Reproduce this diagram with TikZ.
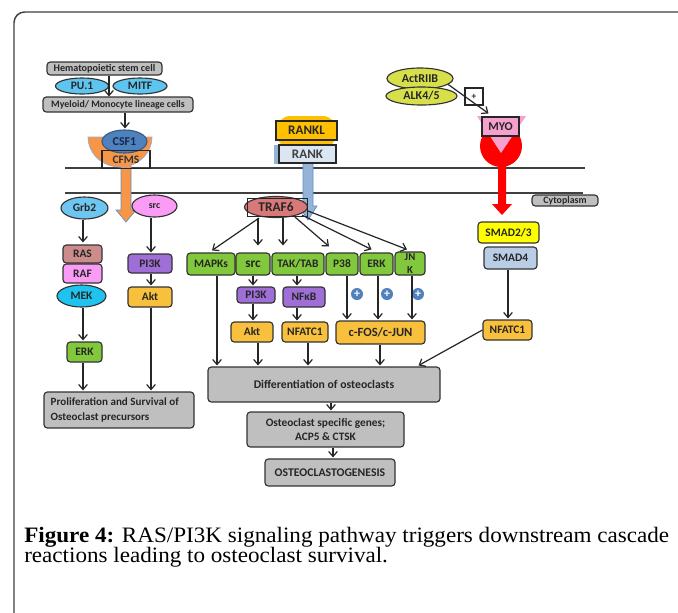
\documentclass[tikz,border=0pt]{standalone}
\usepackage{fontspec}
\setmainfont{Liberation Serif}
\newfontfamily\capfont[FakeStretch=1.05]{Liberation Serif}
\newfontfamily\dgfont{Carlito}
\usetikzlibrary{arrows.meta,calc,shapes.geometric}
\definecolor{cgray}{RGB}{191,191,191}
\definecolor{cpu}{RGB}{94,196,240}
\definecolor{cgrb}{RGB}{110,198,240}
\definecolor{cmek}{RGB}{30,195,240}
\definecolor{ccsf}{RGB}{79,129,189}
\definecolor{ccsftxt}{RGB}{20,40,80}
\definecolor{corange}{RGB}{247,150,70}
\definecolor{cgold}{RGB}{248,192,60}
\definecolor{crankl}{RGB}{255,192,0}
\definecolor{crank}{RGB}{220,230,242}
\definecolor{carrblue}{RGB}{149,179,215}
\definecolor{carredge}{RGB}{100,140,200}
\definecolor{ctraf}{RGB}{217,120,120}
\definecolor{cgreen}{RGB}{130,200,60}
\definecolor{cpurple}{RGB}{160,110,215}
\definecolor{cpink}{RGB}{250,155,245}
\definecolor{cras}{RGB}{205,140,140}
\definecolor{cyg}{RGB}{215,224,75}
\definecolor{cmyo}{RGB}{245,160,205}
\definecolor{cred}{RGB}{255,0,0}
\definecolor{cyellow}{RGB}{255,255,0}
\definecolor{csmad}{RGB}{185,205,229}
\definecolor{cplus}{RGB}{79,129,189}
\begin{document}
\begin{tikzpicture}[x=0.75pt,y=-0.75pt,
  base/.style={font=\dgfont\bfseries\fontsize{8.6}{9}\selectfont, inner sep=0pt, align=center, text=black!85},
  sm/.style={font=\dgfont\bfseries\fontsize{7.4}{8}\selectfont},
  bx/.style 2 args={base, draw=black!80, line width=0.85pt, rounded corners=2.5pt, minimum width=#1*0.75pt, minimum height=#2*0.75pt},
  el/.style 2 args={base, ellipse, draw=black!80, line width=0.85pt, minimum width=#1*0.75pt, minimum height=#2*0.75pt},
  arr/.style={-{Straight Barb[length=3.8pt,width=6.5pt]}, line width=0.9pt, black!85},
  mem/.style={line width=0.9pt, black!75},
  plus/.style={circle, fill=cplus, minimum size=12*0.75pt, inner sep=0pt, text=white, font=\dgfont\bfseries\fontsize{9}{9}\selectfont}
]
\useasboundingbox (0,0) rectangle (678,612);
\clip (0,0) rectangle (678,612);
\fill[white] (0,0) rectangle (678,612);
\draw[rounded corners=8, line width=1.1pt, black!75] (14,640) -- (14,12) -- (700,12);

% membrane
\draw[mem] (65,168) -- (585,168);
\draw[mem] (65,193) -- (583,193);
\node[bx={66}{11}, sm, fill=cgray] (cyto) at (565,200.5) {Cytoplasm};

% ---------- top left ----------
\node[bx={115}{13}, font=\dgfont\bfseries\fontsize{7.6}{8}\selectfont, fill=cgray] (hsc) at (104.5,68.5) {Hematopoietic stem cell};
\node[el={53}{16}, fill=cpu] (pu1) at (82,86) {PU.1};
\node[el={54}{16}, fill=cpu] (mitf) at (140,86) {MITF};
\node[bx={150}{15}, sm, fill=cgray] (myel) at (118,104.5) {Myeloid/ Monocyte lineage cells};
\draw[arr] ($(hsc.south)+(4.5,0)$) -- ($(myel.north)+(-9,0)$);

% orange arrow + cup
\fill[corange, draw=carredge, line width=0.5pt] (121,160) -- (131,160) -- (131,210) -- (136,210) -- (126,222) -- (116,210) -- (121,210) -- cycle;
\fill[corange, draw=carredge!70, line width=0.5pt] (88,137) -- (152,137) arc[start angle=0, end angle=180, x radius=32, y radius=30] -- cycle;
\node[el={45}{23}, fill=ccsf, draw=ccsf!70!black, text=ccsftxt, font=\dgfont\bfseries\fontsize{9}{9}\selectfont] (csf1) at (124.5,141.5) {CSF1};
\node[base, draw=black!85, line width=0.8pt, minimum width=48*0.75pt, minimum height=18*0.75pt, anchor=north, text=black!80] (cfms) at (126,150) {\raisebox{-1.5pt}{CFMS}};
\coordinate (tx1) at (125,0);
\draw[arr] (myel.south -| tx1) -- ($(csf1.north -| tx1)+(0,-1)$);

% ---------- left column ----------
\node[el={47}{22}, fill=cgrb] (grb2) at (84.5,208) {Grb2};
\node[el={45}{22}, fill=cpink, sm] (srcl) at (154.5,206) {src};
\node[bx={39}{18}, fill=cras] (ras) at (82.5,254) {RAS};
\node[bx={39}{19}, fill=cpink] (raf) at (82.5,273.5) {RAF};
\node[el={49}{22}, fill=cmek] (mek) at (81.5,296) {MEK};
\node[bx={35}{20}, fill=cgreen] (erkl) at (84.5,352) {ERK};
\node[bx={44}{19}, fill=cpurple] (pi3kl) at (150,263.5) {PI3K};
\node[bx={44}{20}, fill=cgold] (aktl) at (150,297) {Akt};
\node[bx={150}{36}, fill=cgray] (prolif) at (119,410) {};
\node[base, anchor=west, align=left, font=\dgfont\bfseries\fontsize{8.3}{11}\selectfont] (proliftxt) at ($(prolif.west)+(7,0)$) {Proliferation and Survival of\\Osteoclast precursors};
\coordinate (lx1) at (83,0);
\coordinate (lx2) at (151,0);
\draw[arr] (grb2.south -| lx1) -- ($(ras.north -| lx1)+(0,-2)$);
\draw[arr] (mek.south -| lx1) -- ($(erkl.north -| lx1)+(0,-1)$);
\draw[arr] (erkl.south -| lx1) -- ($(prolif.north -| lx1)+(0,-1)$);
\draw[arr] (srcl.south -| lx2) -- ($(pi3kl.north -| lx2)+(0,-1)$);
\draw[arr] (pi3kl.south -| lx2) -- ($(aktl.north -| lx2)+(0,-1)$);
\draw[arr] (aktl.south -| lx2) -- ($(prolif.north -| lx2)+(0,-1)$);

% ---------- RANKL / RANK ----------
\fill[carrblue, draw=carredge, line width=0.5pt] (303,160) -- (313,160) -- (313,206) -- (317,206) -- (308,220) -- (299,206) -- (303,206) -- cycle;
\fill[crankl, rounded corners=10] (277,116) -- (336,116) -- (336,148) -- (277,148) -- cycle;
\fill[carrblue] (274,145) rectangle (330,164);
\node[base, draw=black!85, line width=0.85pt, fill=crankl, minimum width=61*0.75pt, minimum height=19*0.75pt, font=\dgfont\bfseries\fontsize{9.8}{9}\selectfont] (rankl) at (306.5,130.5) {RANKL};
\node[base, draw=black!85, line width=0.85pt, fill=crank, minimum width=57*0.75pt, minimum height=18*0.75pt, font=\dgfont\bfseries\fontsize{9.8}{9}\selectfont, text=black!75] (rank) at (307.5,154) {RANK};

% TRAF6
\node[el={63}{21}, fill=ctraf, font=\dgfont\bfseries\fontsize{10}{9}\selectfont] (traf6) at (276,207) {TRAF6};
\node[draw=black!85, line width=0.7pt, minimum width=60*0.75pt, minimum height=18*0.75pt, inner sep=0pt] (traf6box) at (277,207) {};

% green row
\node[bx={48}{22}, fill=cgreen] (mapks) at (211,264) {MAPKs};
\node[bx={34}{22}, fill=cgreen, font=\dgfont\bfseries\fontsize{10}{9}\selectfont] (srcg) at (253,264) {src};
\node[bx={52}{22}, fill=cgreen] (tak) at (298,264) {TAK/TAB};
\node[bx={32}{22}, fill=cgreen] (p38) at (342,264) {P38};
\node[bx={33}{22}, fill=cgreen] (erkg) at (376.5,264) {ERK};
\node[bx={30}{23}, fill=cgreen, font=\dgfont\bfseries\fontsize{8}{10}\selectfont] (jnk) at (410,263.5) {JN\\K};

\draw[arr] ($(traf6.south)+(-17,0)$) -- ($(mapks.north)+(1,-2)$);
\draw[arr] ($(traf6.south)+(-18,0)$) -- ($(srcg.north)+(5,-7)$);
\draw[arr] ($(traf6.south)+(7,0)$) -- ($(tak.north)+(-15,-7)$);
\draw[arr] ($(traf6.south)+(19,-1)$) -- ($(p38.north)+(-13,-6)$);
\draw[arr] ($(traf6.south)+(26,-3)$) -- ($(erkg.north)+(-5,-3)$);
\draw[arr] ($(traf6.east)+(0,4)$) -- ($(jnk.north)+(-3,-2)$);

% second row
\node[bx={38}{16}, fill=cpurple] (pi3km) at (256,295) {PI3K};
\node[bx={42}{20}, fill=cpurple] (nfkb) at (304,297) {NFκB};
\node[plus] (pl1) at (357,294) {+};
\node[plus] (pl2) at (387,294) {+};
\node[plus] (pl3) at (418,294) {+};

% third row
\node[bx={42}{20}, fill=cgold] (aktm) at (252,332) {Akt};
\node[bx={46}{20}, fill=cgold] (nfatm) at (305,332) {NFATC1};
\node[bx={89}{23}, fill=cgold, font=\dgfont\bfseries\fontsize{9.4}{9}\selectfont] (cfos) at (380.5,332.5) {c-FOS/c-JUN};

\coordinate (mx1) at (253,0);
\coordinate (mx2) at (297,0);
\coordinate (mx3) at (347,0);
\coordinate (mx4) at (378,0);
\coordinate (mx5) at (412,0);
\draw[arr] (srcg.south -| mx1) -- ($(pi3km.north -| mx1)+(0,-1)$);
\draw[arr] (tak.south -| mx2) -- ($(nfkb.north -| mx2)+(0,-1)$);
\draw[arr] (pi3km.south -| mx1) -- ($(aktm.north -| mx1)+(0,-1)$);
\draw[arr] (nfkb.south -| mx2) -- ($(nfatm.north -| mx2)+(0,-1)$);
\draw[arr] (p38.south -| mx3) -- ($(cfos.north -| mx3)+(0,-1)$);
\draw[arr] (erkg.south -| mx4) -- ($(cfos.north -| mx4)+(0,-1)$);
\draw[arr] (jnk.south -| mx5) -- ($(cfos.north -| mx5)+(0,-1)$);

% bottom
\node[bx={232}{35}, fill=cgray, font=\dgfont\bfseries\fontsize{8.8}{9}\selectfont] (diff) at (324,384.5) {Differentiation of osteoclasts};
\node[bx={157}{35}, fill=cgray, font=\dgfont\bfseries\fontsize{8.5}{10}\selectfont] (genes) at (325.5,429.5) {Osteoclast specific genes;\\ACP5 \& CTSK};
\node[bx={130}{27}, fill=cgray, font=\dgfont\bfseries\fontsize{8.8}{9}\selectfont] (osteo) at (330,472.5) {OSTEOCLASTOGENESIS};

\coordinate (bx1) at (217,0);
\coordinate (bx2) at (258,0);
\coordinate (bx3) at (308,0);
\coordinate (bx4) at (380,0);
\coordinate (bx5) at (331,0);
\coordinate (bx6) at (333,0);
\draw[arr] (mapks.south -| bx1) -- ($(diff.north -| bx1)+(0,-1)$);
\draw[arr] (aktm.south -| bx2) -- ($(diff.north -| bx2)+(0,-1)$);
\draw[arr] (nfatm.south -| bx3) -- ($(diff.north -| bx3)+(0,-1)$);
\draw[arr] (cfos.south -| bx4) -- ($(diff.north -| bx4)+(0,-1)$);
\draw[arr] (diff.south -| bx5) -- ($(genes.north -| bx5)+(0,-1)$);
\draw[arr] (genes.south -| bx6) -- ($(osteo.north -| bx6)+(0,-1)$);

% ---------- right: myostatin ----------
\node[el={66}{21}, fill=cyg, font=\dgfont\bfseries\fontsize{9}{9}\selectfont] (actr) at (420,78.5) {ActRIIB};
\node[el={71}{18}, fill=cyg, font=\dgfont\bfseries\fontsize{9}{9}\selectfont] (alk) at (421.5,96) {ALK4/5};
\node[base, draw=black!85, line width=0.8pt, fill=white, minimum width=18*0.75pt, minimum height=17*0.75pt, font=\dgfont\bfseries\fontsize{7}{7}\selectfont] (plusbox) at (474,96.5) {+};

\fill[cred] (498,160) -- (506,160) -- (506,204) -- (512,204) -- (502,215) -- (492,204) -- (498,204) -- cycle;
\fill[cred] (501,146) circle[radius=21];
\fill[cmyo] (477,116) -- (526,116) -- (501,153) -- cycle;
\node[base, draw=black!85, line width=0.85pt, fill=cmyo, minimum width=37*0.75pt, minimum height=19*0.75pt, font=\dgfont\bfseries\fontsize{9}{9}\selectfont] (myo) at (500.5,126.5) {MYO};
\draw[arr] (actr.-12) -- ($(myo.north)+(-12,-3)$);

\node[bx={61}{21}, fill=cyellow] (smad23) at (508.5,232.5) {SMAD2/3};
\node[bx={53}{22}, fill=csmad] (smad4) at (510.5,258) {SMAD4};
\node[bx={49}{20}, fill=cgold] (nfatr) at (507.5,330) {NFATC1};
\coordinate (rx1) at (508,0);
\draw[arr] (smad4.south -| rx1) -- ($(nfatr.north -| rx1)+(0,-1)$);
\draw[arr] (nfatr.west) -- ($(diff.north east)+(-22,-1)$);

% caption
\node[anchor=base west, inner sep=0pt, font=\capfont\fontsize{16.5}{20}\selectfont] (cap1) at (24,542) {\textbf{Figure 4:} RAS/PI3K signaling pathway triggers downstream cascade};
\node[anchor=base west, inner sep=0pt, font=\capfont\fontsize{16.5}{20}\selectfont] (cap2) at (24,562) {reactions leading to osteoclast survival.};
\end{tikzpicture}
\end{document}
